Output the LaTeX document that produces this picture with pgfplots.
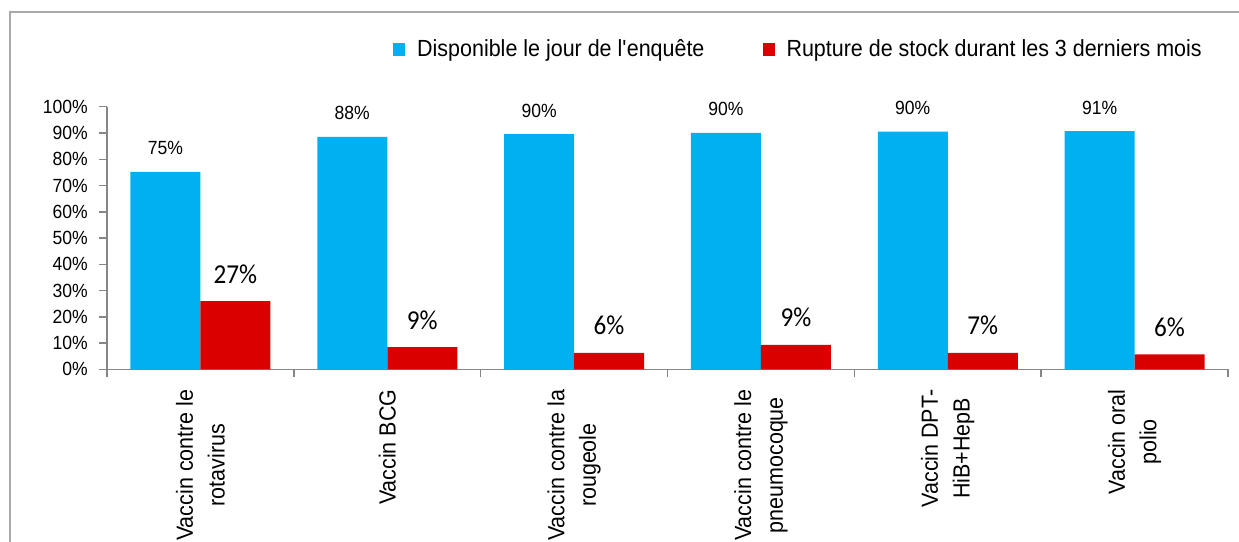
\documentclass[border=0pt]{standalone}
\usepackage{fontspec}
\setmainfont{Liberation Sans}[FakeStretch=0.92]
\newfontfamily\calib{Carlito}[FakeStretch=0.92]
\usepackage{pgfplots}
\usepackage{pgfplotstable}
\pgfplotsset{compat=1.18}
\definecolor{vblue}{RGB}{0,176,240}
\definecolor{vred}{RGB}{218,0,0}
\definecolor{axgray}{RGB}{134,134,134}
\definecolor{framegray}{RGB}{170,170,170}

\pgfplotstableread{
x y lab
0 75.2 75
1 88.5 88
2 89.6 90
3 90.0 90
4 90.5 90
5 90.7 91
}\dispo
\pgfplotstableread{
x y lab
0 26.0 27
1 8.5 9
2 6.3 6
3 9.3 9
4 6.3 7
5 5.7 6
}\rupture

\begin{document}
\begin{tikzpicture}
\path[use as bounding box] (0,0) rectangle (929.25pt,406.5pt);
\clip (0,0) rectangle (929.25pt,406.5pt);
\draw[framegray, line width=1.1pt] (7.5pt,-5pt) -- (7.5pt,397.5pt) -- (940pt,397.5pt);
\begin{axis}[
  at={(80.25pt,129.5pt)}, anchor=south west,
  scale only axis, width=840.75pt, height=196.95pt,
  ybar=0pt, bar width=52.5pt,
  xmin=-0.5, xmax=5.5, ymin=0, ymax=100,
  axis x line*=bottom, axis y line*=left,
  axis line style={axgray, line width=1.1pt},
  tick align=outside, major tick length=6pt,
  tick style={axgray, line width=1.1pt},
  xtick={-0.5,0.5,1.5,2.5,3.5,4.5,5.5}, xticklabels={},
  extra x ticks={0,1,2,3,4,5},
  extra x tick labels={{Vaccin contre le\\rotavirus},{Vaccin BCG},{Vaccin contre la\\rougeole},{Vaccin contre le\\pneumocoque},{Vaccin DPT-\\HiB+HepB},{Vaccin oral\\polio}},
  extra x tick style={tick style={draw=none}},
  xticklabel style={rotate=90, anchor=east, align=center, inner sep=0pt, xshift=-9pt,
    font=\fontsize{17.5}{23.8}\selectfont},
  ytick={0,10,...,100},
  yticklabels={0\%,10\%,20\%,30\%,40\%,50\%,60\%,70\%,80\%,90\%,100\%},
  yticklabel style={anchor=east, inner sep=0pt, xshift=-8.25pt, font=\fontsize{14.3}{16}\selectfont},
  clip=false,
  legend style={at={(0.2551,1.2197)}, anchor=west, draw=none, fill=none,
    legend columns=2, inner sep=0pt, font=\fontsize{17.5}{20}\selectfont,
    nodes={inner sep=0pt},
    /tikz/every even column/.append style={column sep=43.5pt},
    /tikz/every odd column/.append style={column sep=9pt}},
]
\addplot[fill=vblue, draw=none,
  legend image code/.code={\fill[vblue] (0pt,-4.9pt) rectangle (9pt,4.9pt);},
  point meta=explicit symbolic,
  nodes near coords={\pgfplotspointmeta\%},
  every node near coord/.append style={anchor=base, yshift=12.75pt, inner sep=0pt,
    text=black, font=\fontsize{14.3}{16}\selectfont}]
  table[x=x, y=y, meta=lab] {\dispo};
\addplot[fill=vred, draw=none,
  legend image code/.code={\fill[vred] (0pt,-4.9pt) rectangle (9pt,4.9pt);},
  point meta=explicit symbolic,
  nodes near coords={\pgfplotspointmeta\%},
  every node near coord/.append style={anchor=base, yshift=13.5pt, inner sep=0pt,
    text=black, font=\calib\fontsize{20.5}{24}\selectfont}]
  table[x=x, y=y, meta=lab] {\rupture};
\legend{Disponible le jour de l\textquotesingle enquête, Rupture de stock durant les 3 derniers mois}
\end{axis}
\end{tikzpicture}
\end{document}
